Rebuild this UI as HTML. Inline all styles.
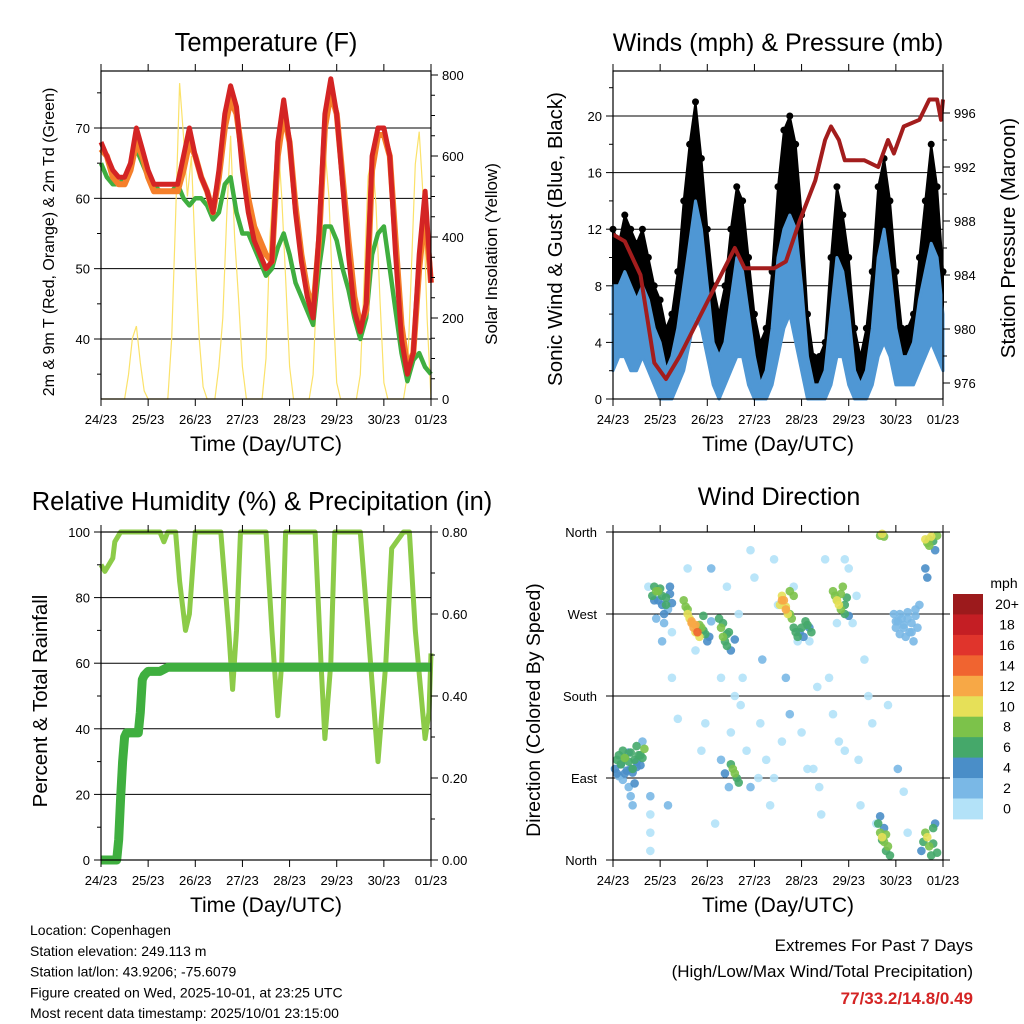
<!DOCTYPE html>
<html><head><meta charset="utf-8"><style>
html,body{margin:0;padding:0;background:#fff;}
svg{display:block;font-family:"Liberation Sans",Arial,sans-serif;}
</style></head><body>
<svg id="root" width="1024" height="1024" viewBox="0 0 1024 1024" xmlns="http://www.w3.org/2000/svg"></svg>
<script>
// ---------- DATA ----------
const dayLabels = ["24/23","25/23","26/23","27/23","28/23","29/23","30/23","01/23"];
const tempRed = [68,66,64,63,63,65,70,67,64,62,62,62,62,62,66,70,66,63,61,58,64,72,76,73,64,58,54,52,50,51,68,74,68,58,51,46,43,55,72,77,72,62,52,44,41,45,66,70,70,66,52,40,35,38,52,61,48];
const tempOrange = [67,66,63,62,62,64,68,66,63,61,61,61,61,61,64,68,66,63,61,58,63,70,74,72,66,60,56,54,52,51,66,72,68,59,52,47,44,54,70,75,72,63,54,46,42,44,64,69,69,66,54,42,36,38,50,58,48];
const tempGreen = [65,63,62,62,63,65,67,65,63,62,61,61,61,62,60,59,60,60,59,57,58,62,63,58,55,55,53,51,49,50,53,55,52,48,46,44,42,50,56,56,54,50,47,43,40,43,52,55,56,50,44,38,34,37,38,36,35];
const solar = [0,0,0,0,0,0,0, 60,150,180,90,20,0, 0,0,0,0,0, 150,450,780,650,500,600,350,150,30,0, 0,0, 80,200,450,650,400,250,80,0, 0,0,0,0, 100,400,550,650,500,300,80,0, 0,0,0,0, 60,300,550,620,500,250,40,0, 0,0,0,0, 60,300,550,600,480,250,40,0, 0,0,0,0, 60,320,580,660,500,200,0];
const gust = [12,11,13,12,11,12,10,8,7,5,6,9,14,18,21,17,12,8,6,8,12,15,14,10,6,4,5,9,15,19,20,18,13,6,3,3,4,10,15,13,10,5,3,5,9,15,17,14,9,5,5,6,10,14,18,15,9];
const windHi = [8,8,9,8,7,8,7,5,4,2,3,5,8,11,14,12,8,4,3,4,7,10,9,6,3,1,2,5,10,12,13,12,8,3,1,1,2,6,10,9,6,2,1,2,5,10,12,9,5,3,3,4,7,9,11,10,6];
const windLo = [2,3,3,2,2,3,2,1,0,0,0,1,2,4,6,5,3,1,0,1,2,3,3,1,0,0,0,1,3,5,6,4,2,0,0,0,0,1,3,3,1,0,0,0,1,3,4,3,1,1,1,1,2,3,4,3,2];
const presHours = [0,6,14,21,27,34,41,55,62,67,82,88,95,103,108,111,115,118,128,135,140,143,148,156,161,165,167,168];
const presVals = [987,986.5,984,977.5,976.3,978,980,984,986,984.5,984.5,985,988,991,994,995,994,992.5,992.5,992,994,993,995,995.5,997,997,995.5,997];
const rhHours = [0,2,6,7,10,30,32,34,38,40,43,45,48,61,65,67,69,71,84,87,90,92,94,109,112,114,117,119,132,136,141,145,148,154,157,160,165,167,168];
const rhVals = [90,88,92,97,100,100,97,100,100,85,70,75,100,100,70,52,70,100,100,70,44,60,100,100,60,37,60,100,100,70,30,60,95,100,100,70,37,45,63];
const precipHours = [0,8,9,10,11,12,13,14,16,19,20,21,22,24,30,34,168];
const precipVals = [0,0,0.05,0.15,0.24,0.30,0.31,0.31,0.31,0.31,0.36,0.44,0.45,0.46,0.46,0.47,0.47];
const dirHours = [1,2,3,4,5,6,7,8,9,10,11,12,13,14,15,16,3,6,9,12,15,8,9,10, 19,19,19,19,
 20,21,22,23,24,25,26,27,28,29,30,22,26,30,
 36,37,38,39,40,41,42,43,44,45,46,47,48,49,50,
 54,55,56,57,58,59,60,60,61,62,63,64,55,57,59,
 85,86,87,88,89,90,91,92,93,94,95,96,97,
 112,113,114,115,116,117,118,119,120, 98,99,100,101,
 143,144,145,146,147,148,149,150,151,152,153,154,155,156,
 136,137,138,159,160,161,162,163,164,165,159,160,
 135,136,137,138,139,140,141,136,138,157,158,159,160,161,162,163,164,165,
 18,25,30,33,38,42,47,50,55,62,65,68,70,72,75,78,80,82,84,88,92,96,100,102,105,108,110,112,115,118,120,122,124,126,128,130,132,134,140,145,148,150,
 60,66,74,90,99,106, 28,45,52,58,64,70,76,82,86,94,104,114,118,125,
 2,4,6,8,10,12,14,5,11, 21,23,25,27,29, 38,40,42,44,46, 56,58,62, 86,88,90,92, 114,116,118, 144,146,148,150,152,154, 137,139,161,163];
const dirDegrees = [100,110,115,105,120,112,98,108,118,96,110,125,115,104,112,122,92,95,100,102,130,80,70,60, 70,50,30,10,
 290,300,295,285,298,280,270,288,275,292,282,265,260,250,
 285,278,270,265,260,255,258,250,245,255,252,248,240,245,262,
 265,255,245,240,235,250,230,105,100,95,90,85,110,95,80,
 280,290,285,275,270,295,265,255,250,245,250,255,245,
 295,290,285,280,275,300,270,288,268, 262,258,255,250,
 270,255,262,248,265,258,245,272,250,260,240,268,255,280,
 356,358,355,352,348,345,355,350,340,356,320,310,
 40,30,25,20,10,15,5,48,35,10,20,30,25,15,5,35,40,8,
 300,240,200,155,320,230,150,320,200,180,170,120,80,310,150,110,60,330,280,200,300,140,240,100,80,330,200,160,130,120,320,260,290,60,220,180,150,40,170,100,75,30,
 140,200,90,160,100,50, 60,120,40,300,270,340,220,90,130,240,190,260,330,110,
 95,105,112,118,100,108,115,88,84, 285,295,290,280,300, 275,262,250,258,268, 260,248,242, 285,278,270,290, 285,292,280, 262,270,255,265,250,275, 22,28,352,18];
const dirSpeeds = [4,6,7,5,6,8,4,6,7,4,6,7,6,5,7,8,3,4,5,5,3,3,3,2, 2,1,1,1,
 6,7,8,5,6,4,4,6,3,5,4,2,2,1,
 8,9,10,11,12,13,12,14,10,8,7,6,5,4,3,
 7,8,8,6,7,6,5,7,8,8,7,6,3,4,3,
 10,11,12,12,11,9,8,7,7,6,5,6,5,
 8,9,10,10,9,8,6,7,5, 6,6,5,6,
 2,3,2,3,2,2,3,2,2,3,2,2,3,2,
 9,10,8,10,9,8,10,7,4,9,4,4,
 6,9,10,8,7,9,6,5,4,4,6,9,10,8,6,7,5,6,
 1,2,0,1,0,1,0,2,1,0,1,1,2,0,1,0,1,0,1,2,0,1,1,0,1,0,0,1,0,1,0,1,0,1,0,1,0,1,0,2,1,1,
 1,0,1,2,0,1, 2,1,0,1,1,0,2,1,0,1,1,0,1,0,
 5,7,6,4,7,5,6,3,4, 5,8,6,7,4, 9,12,10,8,6, 6,7,5, 12,11,9,8, 9,8,7, 2,3,2,2,3,2, 7,8,9,7];
const speedColors = ["#b3e2f8","#7ab8e6","#4a8ec8","#45a86a","#7cc24a","#e6e058","#f7a846","#f06430","#e0342c","#c41e24","#9c1a1c"];
const speedLabels = ["0","2","4","6","8","10","12","14","16","18","20+"];

// ---------- HELPERS ----------
const NS="http://www.w3.org/2000/svg";
const root=document.getElementById('root');
function mk(tag,attrs,name,parent,inter){
  const el=document.createElementNS(NS,tag);
  for(const k in attrs) el.setAttribute(k,attrs[k]);
  
  
  (parent||root).appendChild(el);
  return el;
}
function txt(x,y,s,size,anchor,name,extra,parent){
  const a=Object.assign({x:x,y:y,'font-size':size,'text-anchor':anchor||'middle',fill:'#000'},extra||{});
  const t=mk('text',a,name,parent);
  t.textContent=s;return t;
}
function lin(d0,d1,r0,r1){return v=>r0+(v-d0)/(d1-d0)*(r1-r0);}
function panel(id,x0,x1,y0,y1){
  const g=mk('g',{},id+'-panel');
  return {g,x0,x1,y0,y1,xs:lin(0,168,x0,x1)};
}
function frame(p,name){
  mk('rect',{x:p.x0,y:p.y0,width:p.x1-p.x0,height:p.y1-p.y0,fill:'none',stroke:'#000','stroke-width':1.2},name+'-frame',p.g);
}
function xAxis(p,name){
  for(let i=0;i<dayLabels.length;i++){
    const x=p.xs(i*24);
    mk('line',{x1:x,x2:x,y1:p.y1,y2:p.y1+7,stroke:'#000','stroke-width':1},name+'-x-tick',p.g);
    mk('line',{x1:x,x2:x,y1:p.y0,y2:p.y0-7,stroke:'#000','stroke-width':1},name+'-x-tick-top',p.g);
    txt(x,p.y1+25,dayLabels[i],13,'middle',name+'-x-tick-label',null,p.g);
  }
  txt((p.x0+p.x1)/2,p.y1+52,'Time (Day/UTC)',21,'middle',name+'-x-axis-title',null,p.g);
}
function yTicks(p,scale,vals,side,fmt,name,minor){
  (minor||[]).forEach(v=>{const y=scale(v);
    const x=side==='l'?p.x0:p.x1;const d=side==='l'?-4:4;
    mk('line',{x1:x,x2:x+d,y1:y,y2:y,stroke:'#000','stroke-width':1},name+'-minor-tick',p.g);});
  vals.forEach(v=>{const y=scale(v);
    const x=side==='l'?p.x0:p.x1;const d=side==='l'?-7:7;
    mk('line',{x1:x,x2:x+d,y1:y,y2:y,stroke:'#000','stroke-width':1},name+'-tick',p.g);
    txt(side==='l'?p.x0-11:p.x1+11,y+5,fmt(v),13,side==='l'?'end':'start',name+'-tick-label',null,p.g);
  });
}
function pts(hours,vals,xs,ys){let s='';const n=Math.min(hours.length,vals.length);for(let i=0;i<n;i++)s+=xs(hours[i]).toFixed(1)+','+ys(vals[i]).toFixed(1)+' ';return s;}
const h3=tempRed.map((_,i)=>i*3);
const h2=solar.map((_,i)=>i*2);

// ---------- PANEL 1: TEMPERATURE ----------
(function(){
  const p=panel('temperature',101,431,71,399);
  const yT=lin(40,70,339,128), yS=lin(0,800,399,75);
  txt(266,51,'Temperature (F)',25.5,'middle','temperature-title',null,p.g);
  [40,50,60,70].forEach(v=>mk('line',{x1:p.x0,x2:p.x1,y1:yT(v),y2:yT(v),stroke:'#000','stroke-width':1},'temperature-gridline',p.g));
  mk('polyline',{points:pts(h2,solar,p.xs,yS),fill:'none',stroke:'#fbe26a','stroke-width':1.2},'solar-insolation-line',p.g);
  mk('polyline',{points:pts(h3,tempGreen,p.xs,yT),fill:'none',stroke:'#3fae3f','stroke-width':4.5,'stroke-linejoin':'round'},'dewpoint-2m-line',p.g);
  mk('polyline',{points:pts(h3,tempOrange,p.xs,yT),fill:'none',stroke:'#f57f2a','stroke-width':6,'stroke-linejoin':'round'},'temp-9m-line',p.g);
  mk('polyline',{points:pts(h3,tempRed,p.xs,yT),fill:'none',stroke:'#d42424','stroke-width':5,'stroke-linejoin':'round'},'temp-2m-line',p.g);
  frame(p,'temperature');
  yTicks(p,yT,[40,50,60,70],'l',v=>v,'temperature-y',[35,45,55,65,75]);
  yTicks(p,yS,[0,200,400,600,800],'r',v=>v,'solar-y',[50,100,150,250,300,350,450,500,550,650,700,750]);
  xAxis(p,'temperature');
  txt(0,0,'2m & 9m T (Red, Orange) & 2m Td (Green)',16,'middle','temperature-y-axis-title',{transform:'translate(54,242) rotate(-90)'},p.g);
  txt(0,0,'Solar Insolation (Yellow)',17,'middle','solar-y-axis-title',{transform:'translate(497,254) rotate(-90)'},p.g);
})();

// ---------- PANEL 2: WINDS ----------
(function(){
  const p=panel('winds',613,943,71,399);
  const yW=lin(0,20,399,116), yP=lin(976,996,383,113);
  txt(778,51,'Winds (mph) & Pressure (mb)',25,'middle','winds-title',null,p.g);
  [4,8,12,16,20].forEach(v=>mk('line',{x1:p.x0,x2:p.x1,y1:yW(v),y2:yW(v),stroke:'#000','stroke-width':1},'winds-gridline',p.g));
  let s=pts(h3,gust,p.xs,yW); let back=''; for(let i=h3.length-1;i>=0;i--) back+=p.xs(h3[i]).toFixed(1)+','+yW(windLo[i]).toFixed(1)+' ';
  mk('polygon',{points:s+back,fill:'#000',stroke:'#000','stroke-width':2,'stroke-linejoin':'round'},'gust-band',p.g);
  for(let i=0;i<gust.length;i++){mk('circle',{cx:p.xs(h3[i]),cy:yW(gust[i]),r:3.5,fill:'#000'},'gust-point',p.g);}
  let s2=pts(h3,windHi,p.xs,yW); let b2=''; for(let i=h3.length-1;i>=0;i--) b2+=p.xs(h3[i]).toFixed(1)+','+yW(windLo[i]).toFixed(1)+' ';
  mk('polygon',{points:s2+b2,fill:'#4f97d4',stroke:'#4f97d4','stroke-width':3,'stroke-linejoin':'round'},'wind-band',p.g);
  mk('polyline',{points:pts(presHours,presVals,p.xs,yP),fill:'none',stroke:'#a31d1d','stroke-width':4,'stroke-linejoin':'round'},'pressure-line',p.g);
  frame(p,'winds');
  yTicks(p,yW,[0,4,8,12,16,20],'l',v=>v,'wind-y',[2,6,10,14,18,22]);
  yTicks(p,yP,[976,980,984,988,992,996],'r',v=>v,'pressure-y',[978,982,986,990,994]);
  xAxis(p,'winds');
  txt(0,0,'Sonic Wind & Gust (Blue, Black)',20.5,'middle','wind-y-axis-title',{transform:'translate(562,239) rotate(-90)'},p.g);
  txt(0,0,'Station Pressure (Maroon)',20.5,'middle','pressure-y-axis-title',{transform:'translate(1015,238) rotate(-90)'},p.g);
})();

// ---------- PANEL 3: RH & PRECIP ----------
(function(){
  const p=panel('humidity',101,431,532,860);
  const yR=lin(0,100,860,532), yPr=lin(0,0.8,860,532);
  txt(262,510,'Relative Humidity (%) & Precipitation (in)',25.5,'middle','humidity-title',null,p.g);
  [20,40,60,80].forEach(v=>mk('line',{x1:p.x0,x2:p.x1,y1:yR(v),y2:yR(v),stroke:'#000','stroke-width':1},'humidity-gridline',p.g));
  mk('polyline',{points:pts(rhHours,rhVals,p.xs,yR),fill:'none',stroke:'#8ccb48','stroke-width':5,'stroke-linejoin':'round'},'relative-humidity-line',p.g);
  mk('polyline',{points:pts(precipHours,precipVals,p.xs,yPr),fill:'none',stroke:'#3faf3f','stroke-width':9,'stroke-linejoin':'round'},'precipitation-line',p.g);
  frame(p,'humidity');
  yTicks(p,yR,[0,20,40,60,80,100],'l',v=>v,'humidity-y',[10,30,50,70,90]);
  yTicks(p,yPr,[0,0.2,0.4,0.6,0.8],'r',v=>v.toFixed(2),'precip-y',[0.1,0.3,0.5,0.7]);
  xAxis(p,'humidity');
  txt(0,0,'Percent & Total Rainfall',20.5,'middle','humidity-y-axis-title',{transform:'translate(47,701) rotate(-90)'},p.g);
})();

// ---------- PANEL 4: WIND DIRECTION ----------
(function(){
  const p=panel('direction',613,943,532,860);
  const yD=lin(0,360,860,532);
  txt(779,505,'Wind Direction',25,'middle','direction-title',null,p.g);
  [90,180,270].forEach(v=>mk('line',{x1:p.x0,x2:p.x1,y1:yD(v),y2:yD(v),stroke:'#000','stroke-width':1},'direction-gridline',p.g));
  const n=Math.min(dirHours.length,dirDegrees.length,dirSpeeds.length);
  const idx=[];for(let i=0;i<n;i++)idx.push(i);
  idx.sort((a,b)=>dirSpeeds[a]-dirSpeeds[b]);
  idx.forEach(i=>{
    const c=speedColors[Math.min(10,Math.floor(dirSpeeds[i]/2))];
    mk('circle',{cx:p.xs(dirHours[i]),cy:yD(dirDegrees[i]),r:4.3,fill:c,opacity:0.9},'direction-point',p.g);
  });
  frame(p,'direction');
  const dl=['North','East','South','West','North'];
  [0,90,180,270,360].forEach((v,i)=>{const y=yD(v);
    mk('line',{x1:p.x0,x2:p.x0-7,y1:y,y2:y,stroke:'#000'},'direction-y-tick',p.g);
    mk('line',{x1:p.x1,x2:p.x1+7,y1:y,y2:y,stroke:'#000'},'direction-y-tick-right',p.g);
    txt(p.x0-16,y+5,dl[i],13,'end','direction-y-tick-label',null,p.g);});
  xAxis(p,'direction');
  txt(0,0,'Direction (Colored By Speed)',19.5,'middle','direction-y-axis-title',{transform:'translate(540,710) rotate(-90)'},p.g);
  const cb=mk('g',{},'speed-colorbar');
  txt(1004,588,'mph',14,'middle','colorbar-unit',null,cb);
  for(let k=0;k<11;k++){
    const y=594+k*20.45;
    mk('rect',{x:953,y:y,width:30,height:20.9,fill:speedColors[10-k]},'colorbar-box',cb);
    txt(1007,y+15,speedLabels[10-k],14,'middle','colorbar-label',null,cb);
  }
})();

// ---------- FOOTER ----------
const foot=mk('g',{},'station-info');
["Location: Copenhagen","Station elevation: 249.113 m","Station lat/lon: 43.9206; -75.6079","Figure created on Wed, 2025-10-01, at 23:25 UTC","Most recent data timestamp: 2025/10/01 23:15:00"].forEach((s,i)=>txt(30,935+i*20.8,s,14,'start','station-info-line',null,foot));
const ex=mk('g',{},'extremes-box');
txt(973,951,'Extremes For Past 7 Days',17,'end','extremes-title',null,ex);
txt(973,977,'(High/Low/Max Wind/Total Precipitation)',17,'end','extremes-subtitle',null,ex);
txt(973,1004,'77/33.2/14.8/0.49',17,'end','extremes-values',{fill:'#d42424','font-weight':'bold'},ex);
</script>
</body></html>
